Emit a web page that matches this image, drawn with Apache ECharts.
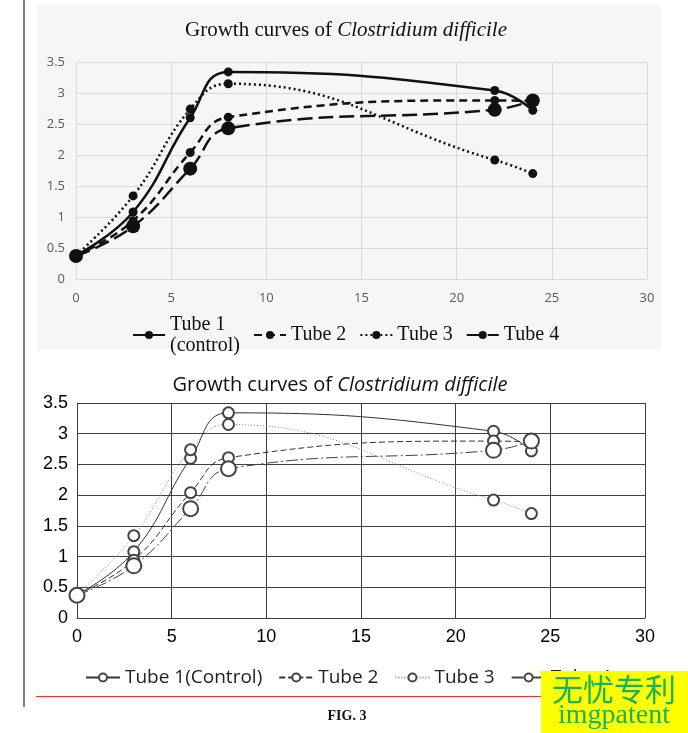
<!DOCTYPE html>
<html>
<head>
<meta charset="utf-8">
<script src="https://cdn.jsdelivr.net/npm/echarts@6/dist/echarts.min.js"></script>
<style>
html,body{margin:0;padding:0;background:#fff;}
#chart{width:688px;height:733px;}
</style>
</head>
<body>
<div id="chart"></div>
<script>
// Data (hours of growth, OD values)
var hours = [0, 3, 6, 8, 22, 24];
var tube1 = [0.38, 1.08, 2.60, 3.34, 3.04, 2.72];
var tube2 = [0.38, 0.94, 2.04, 2.61, 2.88, 2.87];
var tube3 = [0.38, 1.34, 2.74, 3.15, 1.92, 1.70];
var tube4 = [0.37, 0.85, 1.78, 2.43, 2.73, 2.88];
var xTicks = [0, 5, 10, 15, 20, 25, 30];
var yTicks = [0, 0.5, 1, 1.5, 2, 2.5, 3, 3.5];
var titleMain = 'Growth curves of ';
var titleItalic = 'Clostridium difficile';
var topNames = ['Tube 1\n(control)', 'Tube 2', 'Tube 3', 'Tube 4'];
var bottomNames = ['Tube 1(Control)', 'Tube 2', 'Tube 3', 'Tube 4'];
var bottomKeys = ['b1', 'b2', 'b3', 'b4'];

function pts(arr) { return hours.map(function (h, i) { return [h, arr[i]]; }); }
var all = [tube1, tube2, tube3, tube4];

var chart = echarts.init(document.getElementById('chart'), null, {renderer: 'canvas'});

var topDash = ['solid', [8, 5], [2, 3], [15, 6]];
var topSym = [9, 9, 9, 14];
var botDash = ['solid', [6, 3], [1, 2], [12, 3, 2, 3]];
var botColor = ['#333', '#333', '#888', '#444'];
var botSym = [11, 11, 11, 15];

var series = [];
all.forEach(function (arr, i) {
  series.push({
    name: topNames[i], type: 'line', xAxisIndex: 0, yAxisIndex: 0,
    data: pts(arr), smooth: 0.45, symbol: 'circle', symbolSize: topSym[i],
    itemStyle: {color: '#111'},
    lineStyle: {color: '#111', width: 2.5, type: topDash[i]},
    z: 2 + (i === 3 ? 0 : 1)
  });
});
all.forEach(function (arr, i) {
  series.push({
    name: bottomKeys[i], type: 'line', xAxisIndex: 1, yAxisIndex: 1,
    data: pts(arr), smooth: 0.45, symbol: 'emptyCircle', symbolSize: botSym[i],
    itemStyle: {color: '#444', borderColor: '#444', borderWidth: 1},
    lineStyle: {color: botColor[i], width: 1, type: botDash[i]}
  });
});

var topAxisLbl = {color: '#595959', fontSize: 13, fontFamily: 'Open Sans'};
var botAxisLbl = {color: '#000', fontSize: 18, fontFamily: 'Liberation Sans'};

var option = {
  backgroundColor: '#fff',
  animation: false,
  title: [
    {
      text: titleMain + '{i|' + titleItalic + '}',
      left: 341, textAlign: 'center', top: 15,
      textStyle: {fontFamily: 'Liberation Serif', fontSize: 21, fontWeight: 'normal', color: '#111',
        rich: {i: {fontFamily: 'Liberation Serif', fontSize: 21, fontStyle: 'italic', color: '#111'}}}
    },
    {
      text: titleMain + '{i|' + titleItalic + '}',
      left: 335, textAlign: 'center', top: 370,
      textStyle: {fontFamily: 'Open Sans', fontSize: 20, fontWeight: 'normal', color: '#111',
        rich: {i: {fontFamily: 'Open Sans', fontSize: 20, fontStyle: 'italic', color: '#111'}}}
    }
  ],
  grid: [
    {left: 76, right: 41, top: 62, height: 217, containLabel: false},
    {left: 77, right: 43, top: 403, height: 215, containLabel: false}
  ],
  xAxis: [
    {type: 'value', gridIndex: 0, min: xTicks[0], max: xTicks[xTicks.length - 1], interval: 5,
      axisLine: {show: true, lineStyle: {color: '#d9d9d9'}}, axisTick: {show: false},
      splitLine: {show: true, lineStyle: {color: '#d9d9d9'}},
      axisLabel: Object.assign({margin: 13}, topAxisLbl)},
    {type: 'value', gridIndex: 1, min: xTicks[0], max: xTicks[xTicks.length - 1], interval: 5,
      axisLine: {show: true, lineStyle: {color: '#404040'}}, axisTick: {show: false},
      splitLine: {show: true, lineStyle: {color: '#404040'}},
      axisLabel: Object.assign({margin: 10}, botAxisLbl)}
  ],
  yAxis: [
    {type: 'value', gridIndex: 0, min: yTicks[0], max: yTicks[yTicks.length - 1], interval: 0.5,
      axisLine: {show: true, lineStyle: {color: '#d9d9d9'}}, axisTick: {show: false},
      splitLine: {show: true, lineStyle: {color: '#d9d9d9'}},
      axisLabel: Object.assign({margin: 11}, topAxisLbl)},
    {type: 'value', gridIndex: 1, min: yTicks[0], max: yTicks[yTicks.length - 1], interval: 0.5,
      axisLine: {show: true, lineStyle: {color: '#404040'}}, axisTick: {show: false},
      splitLine: {show: true, lineStyle: {color: '#404040'}},
      axisLabel: Object.assign({margin: 9}, botAxisLbl)}
  ],
  legend: [
    {
      data: topNames, left: 127, top: 309, itemWidth: 32, itemHeight: 10, itemGap: 13,
      textStyle: {fontFamily: 'Liberation Serif', fontSize: 20, lineHeight: 21, color: '#111'}
    },
    {
      data: bottomKeys, left: 80, top: 663, itemWidth: 34, itemHeight: 10, itemGap: 16,
      formatter: function (n) { return bottomNames[bottomKeys.indexOf(n)]; },
      textStyle: {fontFamily: 'Open Sans', fontSize: 19, color: '#222'}
    }
  ],
  graphic: [
    {type: 'rect', shape: {x: 37, y: 5, width: 624, height: 345}, style: {fill: '#f6f6f6'}, z: -100, silent: true},
    {type: 'line', shape: {x1: 24, y1: 0, x2: 24, y2: 707}, style: {stroke: '#808080', lineWidth: 2}, z: 50},
    {type: 'line', shape: {x1: 36, y1: 696.5, x2: 688, y2: 696.5}, style: {stroke: '#ff2a2a', lineWidth: 1}, z: 50},
    {type: 'text', x: 347, y: 716, style: {text: 'FIG. 3', fill: '#111', font: 'bold 14px "Liberation Serif"',
      textAlign: 'center', textVerticalAlign: 'middle'}, z: 50},
    {type: 'rect', shape: {x: 541, y: 671, width: 147, height: 62}, style: {fill: '#ffff00'}, z: 100},
    {type: 'text', x: 614, y: 689, style: {text: '无忧专利', fill: '#19b35a', font: '31px "Noto Sans CJK SC"',
      textAlign: 'center', textVerticalAlign: 'middle'}, z: 101},
    {type: 'text', x: 614, y: 716, style: {text: 'imgpatent', fill: '#19b35a', font: '28px "Liberation Serif"',
      textAlign: 'center', textVerticalAlign: 'middle'}, z: 101}
  ],
  series: series
};
chart.setOption(option);
</script>
</body>
</html>
